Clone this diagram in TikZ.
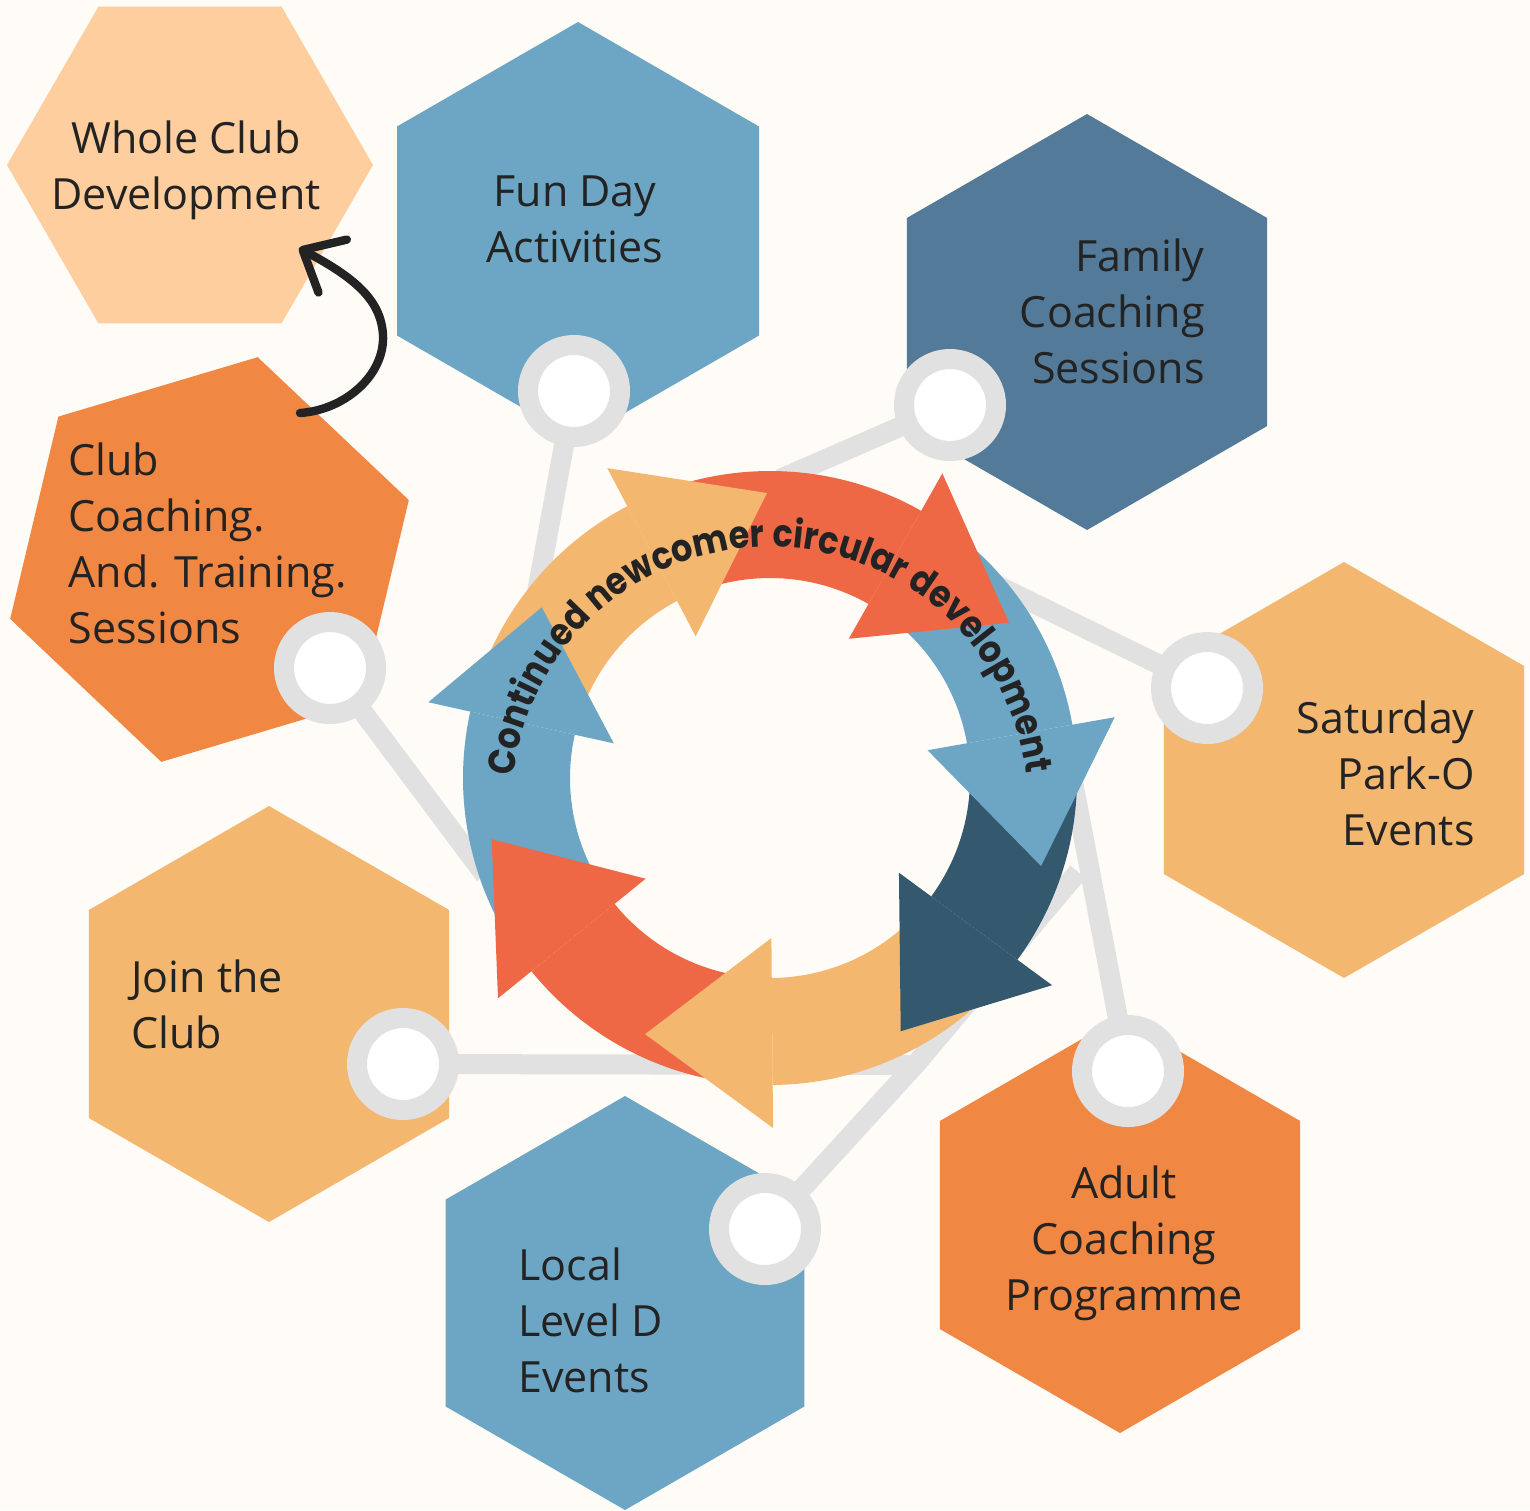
\documentclass[tikz,border=0pt]{standalone}
\usepackage{fontspec}
\setmainfont{Open Sans}
\newfontfamily\arcfont{Poppins}[FakeStretch=0.88]
\usetikzlibrary{arrows.meta,decorations.text}

\definecolor{paper}{HTML}{FFFBF6}
\definecolor{peach}{HTML}{FECE9F}
\definecolor{sky}{HTML}{6CA6C4}
\definecolor{steel}{HTML}{537A98}
\definecolor{tangerine}{HTML}{F08743}
\definecolor{sand}{HTML}{F3B76F}
\definecolor{coral}{HTML}{EF6845}
\definecolor{navy}{HTML}{34586E}
\definecolor{ringgrey}{HTML}{E1E1E1}
\definecolor{ink}{HTML}{232323}

% hexagon: colour, centre, corner radius, first corner angle
\newcommand{\hexpatch}[4]{%
  \fill[#1] (#2) +(#4:#3) -- +(#4+60:#3) -- +(#4+120:#3) -- +(#4+180:#3) -- +(#4+240:#3) -- +(#4+300:#3) -- cycle;}

\begin{document}
\begin{tikzpicture}[x=0.5pt,y=-0.5pt,
    ring/.style={circle, draw=ringgrey, fill=white, line width=10pt, minimum size=46pt, inner sep=0pt, outer sep=0pt},
    link/.style={draw=ringgrey, line width=10pt},
    hextext/.style={text=ink, inner sep=0pt, font=\fontsize{21.5}{28}\selectfont},
    sketch/.style={draw=ink, line width=4.2pt, line cap=round, -{Straight Barb[length=17pt,width=30pt,round]}}]
  \useasboundingbox (0,0) rectangle (1530,1510);
  \fill[paper] (0,0) rectangle (1530,1510);

  % hexagons
  \hexpatch{peach}{190,165}{183}{0}
  \hexpatch{sky}{578,231}{209}{30}
  \hexpatch{steel}{1087,322}{208}{30}
  \hexpatch{tangerine}{209.5,559.5}{208}{43.4}
  \hexpatch{sand}{1344,770}{208}{30}
  \hexpatch{sand}{269,1014}{208}{30}
  \hexpatch{sky}{625,1303}{207}{30}
  \hexpatch{tangerine}{1120,1225}{208}{30}

  % rings and the lines behind the wheel
  \node[ring] (rFun) at (574,391) {};
  \node[ring] (rFamily) at (950,405) {};
  \node[ring] (rClub) at (330,668) {};
  \node[ring] (rSaturday) at (1207,688) {};
  \node[ring] (rJoin) at (403,1064) {};
  \node[ring] (rLocal) at (765,1229) {};
  \node[ring] (rAdult) at (1128,1071) {};
  \coordinate (jWest) at (485,875);
  \coordinate (jNorth) at (780,479);
  \coordinate (jSouth) at (915,1065);
  \coordinate (jEast) at (1078,872);
  \coordinate (jRight) at (1066,745);
  \draw[link] (rFun) -- (jWest);
  \draw[link] (rClub) -- (jWest);
  \draw[link] (rFamily) -- (jNorth);
  \draw[link] (rSaturday) -- (jNorth);
  \draw[link] (rJoin) -- (jSouth);
  \draw[link] (rLocal) -- (jSouth) -- (jEast);
  \draw[link] (rAdult) -- (jRight);

  % the wheel of arrows
  \def\rin{100pt}
  \def\rout{153.5pt}
  \def\hin{80pt}
  \def\hout{175pt}
  \def\htip{142.5pt}
  \begin{scope}[shift={(770,778)}]
    \foreach \col/\s/\b in {sand/156/117.7, coral/106.7/60.5, sky/49.5/10, navy/-1/-36.3,
                            sand/-47.3/-89.5, coral/-100.5/-141, sky/208/167.5}
      \fill[\col] (\s:\rin) arc[start angle=\s, end angle=\b, radius=\rin]
        -- (\b:\rout) arc[start angle=\b, end angle=\s, radius=\rout] -- cycle;
    \foreach \col/\b/\t in {sand/117.7/90.6, coral/60.5/33, sky/10/-18, navy/-36.3/-62.7,
                            sand/-89.5/-116, coral/-141/-167.6, sky/167.5/143.2}
      \fill[\col] (\b:\hin) -- (\b:\hout) -- (\t:\htip) -- cycle;
  \end{scope}
  \begin{scope}[shift={(770,805)}]
    \path[decorate, decoration={text along path, text align=center, text color=ink,
        text={|\arcfont\bfseries\fontsize{19}{22}\selectfont|Continued newcomer circular development}}]
      (190.3:129pt) arc[start angle=190.3, end angle=-9.7, radius=129pt];
  \end{scope}

  % labels (base = last line)
  \node[hextext, anchor=base, align=center] (tWhole) at (186,209) {Whole Club\\Development};
  \node[hextext, anchor=base, align=center] (tFun) at (575,262) {Fun Day\\Activities};
  \node[hextext, anchor=base east, align=right] (tFamily) at (1205,383) {Family\\Coaching\\Sessions};
  \node[hextext, anchor=base west, align=left] (tClub) at (68,643) {Club\\Coaching.\\And. Training.\\Sessions};
  \node[hextext, anchor=base east, align=right] (tSaturday) at (1475,845) {Saturday\\Park-O\\Events};
  \node[hextext, anchor=base west, align=left] (tJoin) at (131,1048) {Join the\\Club};
  \node[hextext, anchor=base west, align=left] (tLocal) at (518,1392) {Local\\Level D\\Events};
  \node[hextext, anchor=base, align=center] (tAdult) at (1124,1310) {Adult\\Coaching\\Programme};

  % hand drawn arrow from the club sessions up to the whole club
  \coordinate (cTail) at (300,413);
  \coordinate (cTip) at (299,248);
  \draw[sketch] (cTail) .. controls (345,410) and (385,375) .. (383,335)
    .. controls (381,300) and (355,278) .. (cTip);
\end{tikzpicture}
\end{document}
